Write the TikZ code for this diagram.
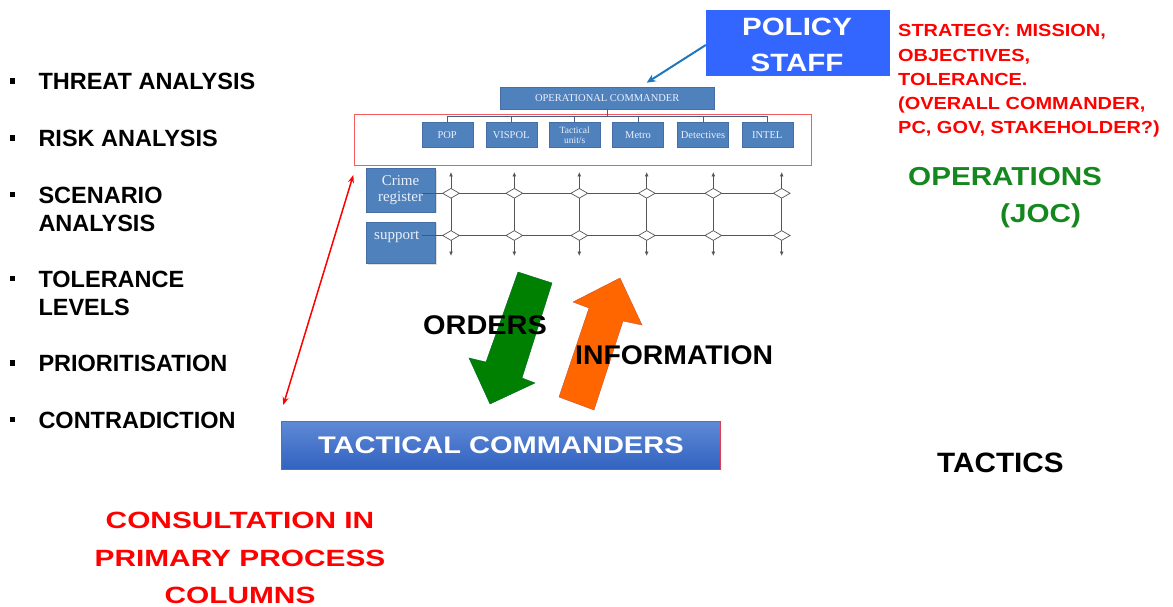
\documentclass[tikz,border=0pt]{standalone}
\usepackage{fontspec}
\usepackage{graphicx}
\setmainfont{Liberation Sans}
\newfontfamily\serifx{Liberation Serif}
\usetikzlibrary{arrows.meta,shapes.geometric,shadows}
\definecolor{policyblue}{RGB}{51,102,255}
\definecolor{arrowblue}{RGB}{31,119,190}
\definecolor{orgblue}{RGB}{79,129,189}
\definecolor{orgedge}{RGB}{70,110,165}
\definecolor{orgtext}{RGB}{235,240,250}
\definecolor{connc}{RGB}{70,95,135}
\definecolor{gridc}{RGB}{85,85,85}
\definecolor{redbox}{RGB}{245,90,95}
\definecolor{redtxt}{RGB}{255,0,0}
\definecolor{greentxt}{RGB}{20,135,30}
\definecolor{arrgreen}{RGB}{0,128,0}
\definecolor{arrorange}{RGB}{255,102,0}
\definecolor{tctop}{RGB}{95,138,214}
\definecolor{tcbot}{RGB}{50,98,192}
\definecolor{tcedge}{RGB}{225,60,80}
\newcommand\hstr[2]{\scalebox{#1}[1]{#2}}
\begin{document}
\begin{tikzpicture}[x=1pt,y=-1pt,
  bl/.style={anchor=base west, inner sep=0, font=\bfseries\fontsize{23.5}{28}\selectfont},
  bsq/.style={fill=black, draw=none, minimum width=5.5pt, minimum height=5.5pt, inner sep=0},
  org/.style={fill=orgblue, draw=orgedge, line width=0.4pt, inner sep=0, text=orgtext, font=\serifx\fontsize{10.5}{10}\selectfont},
  sub/.style={org, minimum width=51pt, minimum height=25pt},
  side/.style={org, minimum width=69pt, drop shadow={opacity=0.25, shadow xshift=1.5pt, shadow yshift=-1.5pt}},
  conn/.style={draw=connc, line width=0.6pt},
  gridl/.style={draw=gridc, line width=0.9pt},
  dia/.style={diamond, draw=gridc, fill=white, line width=0.7pt, minimum width=17pt, minimum height=10pt, inner sep=0},
  tipe/.style={-{Latex[length=4.5pt,width=4pt]}},
  strat/.style={anchor=base west, inner sep=0, text=redtxt, font=\bfseries\fontsize{17.5}{20}\selectfont},
  big/.style={anchor=base west, inner sep=0, font=\bfseries\fontsize{27}{30}\selectfont},
  cons/.style={anchor=base, inner sep=0, text=redtxt, font=\bfseries\fontsize{23.5}{28}\selectfont},
  pol/.style={anchor=base, inner sep=0, text=white, font=\bfseries\fontsize{25}{30}\selectfont},
]
\useasboundingbox (0,0) rectangle (1173,607);

% ---------------- left bullet list
\node[bsq] (b1) at (12.5,81) {};
\node[bl] (l1) at (38.3,89.5) {THREAT ANALYSIS};
\node[bsq] (b2) at (12.5,138) {};
\node[bl] (l2) at (38.3,146.3) {RISK ANALYSIS};
\node[bsq] (b3) at (12.5,194.5) {};
\node[bl] (l3a) at (38.3,203) {SCENARIO};
\node[bl] (l3b) at (38.3,231.3) {ANALYSIS};
\node[bsq] (b4) at (12.5,278.5) {};
\node[bl] (l4a) at (38.3,287) {TOLERANCE};
\node[bl] (l4b) at (38.3,315.3) {LEVELS};
\node[bsq] (b5) at (12.5,363) {};
\node[bl] (l5) at (38.3,371.3) {PRIORITISATION};
\node[bsq] (b6) at (12.5,419.5) {};
\node[bl] (l6) at (38.3,428) {CONTRADICTION};

% ---------------- policy staff
\node[fill=policyblue, draw=none, minimum width=184pt, minimum height=66pt, inner sep=0] (policy) at (798,43) {};
\node[pol] (pol1) at (797,36) {\hstr{1.18}{POLICY}};
\node[pol] (pol2) at (797,71.5) {\hstr{1.18}{STAFF}};

% ---------------- strategy text
\node[strat] (s1) at (898,37) {\hstr{1.14}{STRATEGY: MISSION,}};
\node[strat] (s2) at (898,61.2) {\hstr{1.14}{OBJECTIVES,}};
\node[strat] (s3) at (898,85.4) {\hstr{1.14}{TOLERANCE.}};
\node[strat] (s4) at (898,109.6) {\hstr{1.14}{(OVERALL COMMANDER,}};
\node[strat] (s5) at (898,133.8) {\hstr{1.14}{PC, GOV, STAKEHOLDER?)}};

\node[anchor=base west, inner sep=0, text=greentxt, font=\bfseries\fontsize{26}{30}\selectfont] (ops) at (908,185.5) {\hstr{1.14}{OPERATIONS}};
\node[anchor=base west, inner sep=0, text=greentxt, font=\bfseries\fontsize{26}{30}\selectfont] (joc) at (1000,222.5) {\hstr{1.14}{(JOC)}};

% ---------------- org chart
\node[org, minimum width=214.3pt, minimum height=22pt] (oc) at (607.2,98.3) {OPERATIONAL COMMANDER};
\node[draw=redbox, line width=0.9pt, minimum width=457.7pt, minimum height=50.7pt, inner sep=0] (grp) at (582.9,139.7) {};
\node[sub] (pop) at (447.2,135.2) {POP};
\node[sub] (vis) at (511.2,135.2) {VISPOL};
\node[sub, font=\serifx\fontsize{9.5}{9.5}\selectfont, align=center] (tac) at (574.7,135.2) {Tactical\\unit/s};
\node[sub] (met) at (638,135.2) {Metro};
\node[sub] (det) at (703,135.2) {Detectives};
\node[sub] (int) at (767.2,135.2) {INTEL};
\coordinate (bus) at (607.2,117);
\draw[conn] (oc.south) -- (bus);
\draw[conn] (pop.north) -- ++(0,-5.7) -| (int.north);
\foreach \b in {vis,tac,met,det}{\draw[conn] (\b.north) -- ++(0,-5.7);}

\node[side, minimum height=43.4pt, font=\serifx\fontsize{15}{16}\selectfont, align=center] (crime) at (400.5,190) {Crime\\register};
\node[side, minimum height=41.6pt] (supp) at (400.5,242.5) {};
\node[inner sep=0, text=orgtext, font=\serifx\fontsize{15}{16}\selectfont] (suppt) at (396.7,237) {support};

% grid
\coordinate (r1) at (421.7,193.3);
\coordinate (r2) at (421.7,235.5);
\foreach \i/\x in {1/451,2/514.3,3/579.3,4/646.7,5/713.3,6/781.7}{
  \coordinate (t\i) at (\x,172);
  \coordinate (u\i) at (\x,193.3);
  \coordinate (v\i) at (\x,235.5);
  \coordinate (w\i) at (\x,256);
}
\draw[gridl] (r1) -- (u6);
\draw[gridl] (r2) -- (v6);
\foreach \i in {1,...,6}{
  \draw[gridl, tipe] (u\i) -- (t\i);
  \draw[gridl] (u\i) -- (v\i);
  \draw[gridl, tipe] (v\i) -- (w\i);
  \node[dia] (da\i) at (u\i) {};
  \node[dia] (db\i) at (v\i) {};
}

% blue arrow
\coordinate (bt) at (646.7,82.7);
\draw[arrowblue, line width=2pt, -{Stealth[length=9pt,width=8pt]}] ([yshift=-2pt]policy.west) -- (bt);

% red double arrow
\coordinate (ra) at (353.3,175);
\coordinate (rb) at (283.3,405);
\draw[redtxt, line width=1.5pt, {Stealth[length=8pt,width=6pt]}-{Stealth[length=8pt,width=6pt]}] (ra) -- (rb);

% big block arrows
\filldraw[fill=arrgreen, draw=arrgreen!80!blue, line width=0.4pt]
  (518,272) -- (552,283) -- (522,378) -- (535,383) -- (490,404) -- (469,358) -- (486,362) -- cycle;
\filldraw[fill=arrorange, draw=arrorange!80!blue, line width=0.4pt]
  (559,397) -- (589,308) -- (573,302) -- (620,278) -- (642,325) -- (623,321) -- (594,410) -- cycle;
\node[big] (orders) at (423,334) {\hstr{1.07}{ORDERS}};
\node[big] (info) at (575,364) {\hstr{1.05}{INFORMATION}};

% tactical commanders
\node[top color=tctop, bottom color=tcbot, draw=tcedge, line width=0.8pt, minimum width=439.7pt, minimum height=48.3pt, inner sep=0, text=white, font=\bfseries\fontsize{24}{28}\selectfont] (tc) at (500.9,445.2) {\hstr{1.21}{TACTICAL COMMANDERS}};

\node[anchor=base west, inner sep=0, font=\bfseries\fontsize{28}{30}\selectfont] (tactics) at (937,472) {\hstr{1.06}{TACTICS}};

% consultation
\node[cons] (c1) at (240,528) {\hstr{1.27}{CONSULTATION IN}};
\node[cons] (c2) at (240,566) {\hstr{1.27}{PRIMARY PROCESS}};
\node[cons] (c3) at (240,603) {\hstr{1.27}{COLUMNS}};
\end{tikzpicture}
\end{document}
